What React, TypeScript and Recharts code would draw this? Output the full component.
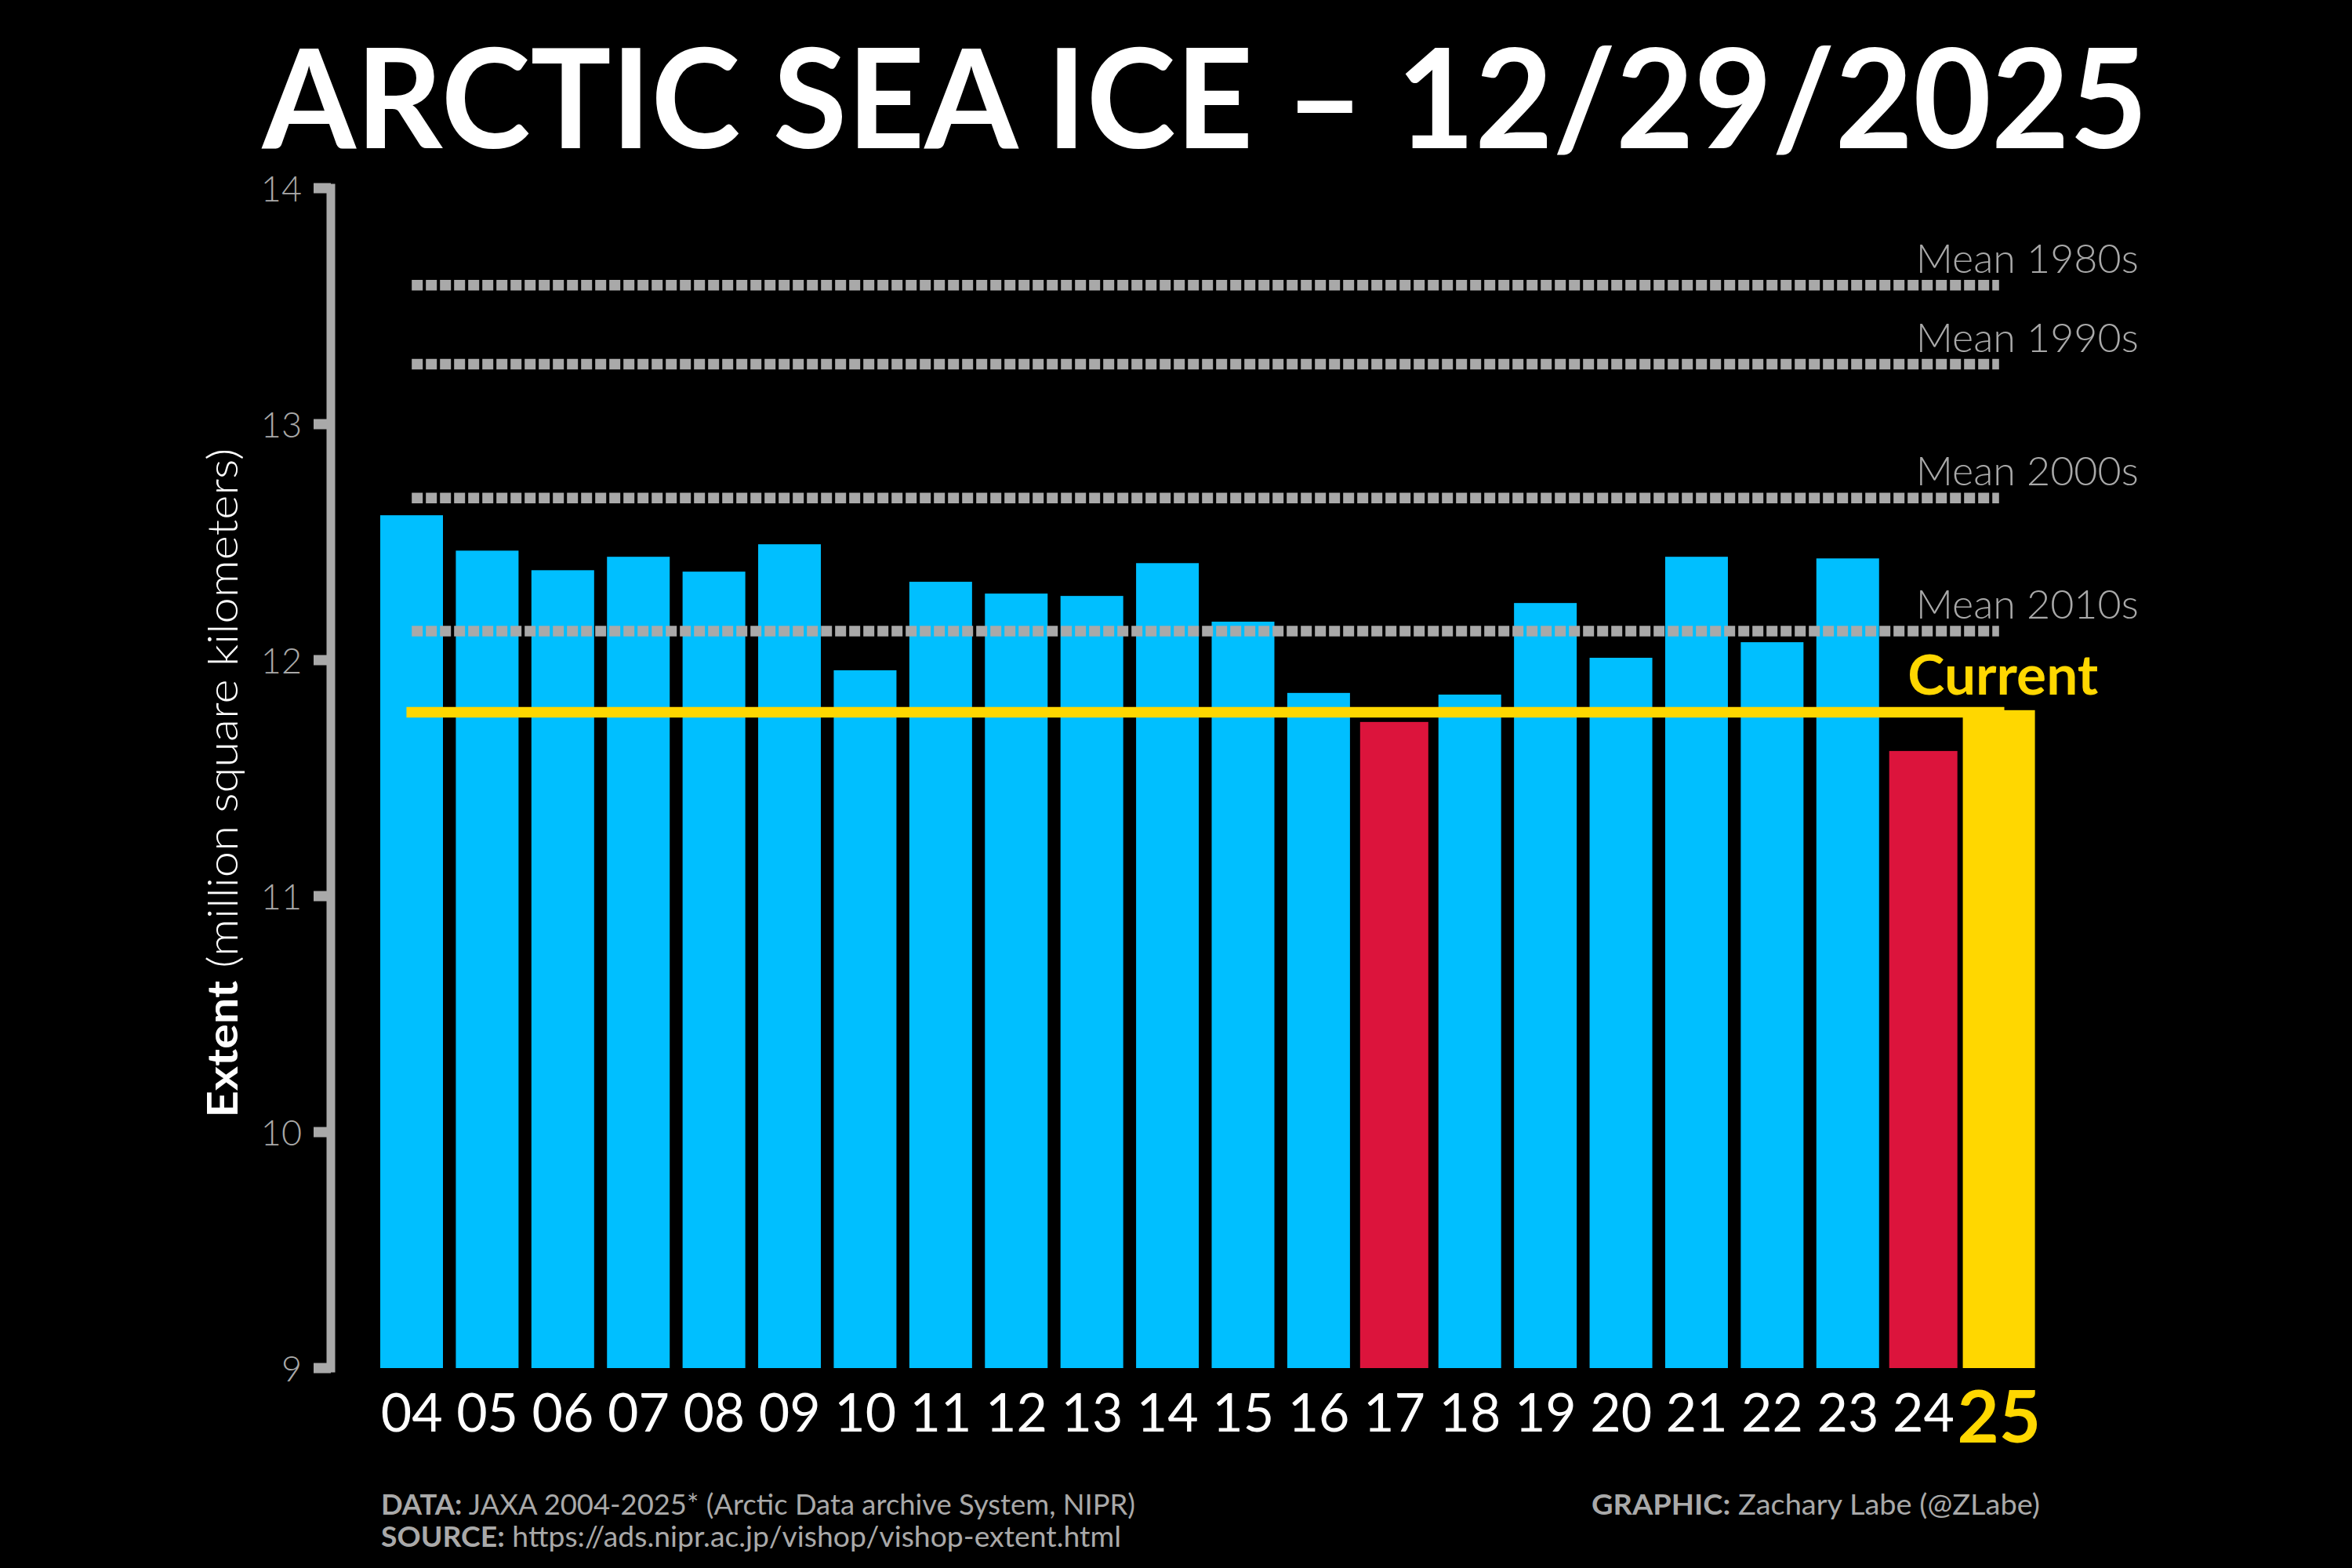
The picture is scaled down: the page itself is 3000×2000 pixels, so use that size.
import React from 'react';
import { BarChart, Bar, XAxis, YAxis, ReferenceLine } from 'recharts';

// ---------- data ----------
const years = ['04', '05', '06', '07', '08', '09', '10', '11', '12', '13', '14', '15', '16', '17', '18', '19', '20', '21', '22', '23', '24', '25'];
const extent = [12.614, 12.464, 12.381, 12.438, 12.375, 12.491, 11.957, 12.332, 12.282, 12.272, 12.411, 12.163, 11.861, 11.738, 11.854, 12.242, 12.01, 12.438, 12.076, 12.431, 11.615, 11.788];
const yTicks = [9, 10, 11, 12, 13, 14];
const decadeLabels = ['Mean 1980s', 'Mean 1990s', 'Mean 2000s', 'Mean 2010s'];
const decadeMeans = [13.589, 13.254, 12.687, 12.123];
const currentValue = 11.779;
const lowYears = ['17', '24'];
const currentYear = '25';

const data = years.map((year, i) => ({ year, extent: extent[i] }));

// ---------- style ----------
const FONT = "Lato, 'DejaVu Sans', sans-serif";
const BLUE = '#00BFFF';
const RED = '#DC143C';
const GOLD = '#FFD700';
const GREY = '#A9A9A9';

const colorFor = (y: string) => (y === currentYear ? GOLD : lowYears.includes(y) ? RED : BLUE);
const extraFor = (y: string) => (y === currentYear ? 6 : lowYears.includes(y) ? 3.5 : 0);

const BarShape = (props: any) => {
  const { x, y, width, height, payload } = props;
  const yr = payload?.year;
  const e = extraFor(yr);
  return <rect x={x - e} y={y} width={width + 2 * e} height={height} fill={colorFor(yr)} />;
};

const XTick = (props: any) => {
  const { x, y, payload } = props;
  const cur = payload.value === currentYear;
  return (
    <text
      x={x}
      y={y + (cur ? 95 : 81)}
      textAnchor="middle"
      fill={cur ? GOLD : '#FFFFFF'}
      fontSize={cur ? 92 : 68}
      fontWeight={cur ? 700 : 400}
      fontFamily={FONT}
    >
      {payload.value}
    </text>
  );
};

const YTick = (props: any) => {
  const { x, y, payload } = props;
  return (
    <text x={x} y={y} dy="0.37em" textAnchor="end" fill={GREY} fontSize={45} fontWeight={300} fontFamily={FONT}>
      {payload.value}
    </text>
  );
};

const YLabel = (props: any) => {
  const vb = props.viewBox || { x: 222, y: 240, width: 200, height: 1505 };
  const cx = vb.x + 81;
  const cy = vb.y + vb.height / 2 + 6;
  return (
    <text
      transform={`rotate(-90 ${cx} ${cy})`}
      x={cx}
      y={cy}
      textAnchor="middle"
      fontSize={54}
      fill="#FFFFFF"
      fontFamily={FONT}
      textLength={854}
      lengthAdjust="spacingAndGlyphs"
    >
      <tspan fontWeight={700}>Extent</tspan>
      <tspan fontWeight={300}> (million square kilometers)</tspan>
    </text>
  );
};

const MeanLabel = (props: any) => {
  const { viewBox, text } = props;
  if (!viewBox) return null;
  return (
    <text
      x={viewBox.x + viewBox.width + 178}
      y={viewBox.y - 16}
      textAnchor="end"
      fontSize={52}
      fontWeight={300}
      fill={GREY}
      fontFamily={FONT}
    >
      {text}
    </text>
  );
};

const CurrentLabel = (props: any) => {
  const { viewBox } = props;
  if (!viewBox) return null;
  return (
    <text
      x={viewBox.x + viewBox.width + 5}
      y={viewBox.y - 23}
      textAnchor="middle"
      fontSize={70}
      fontWeight={700}
      fill={GOLD}
      fontFamily={FONT}
      textLength={243}
      lengthAdjust="spacingAndGlyphs"
    >
      Current
    </text>
  );
};

export default function App() {
  const first = years[0];
  const last = years[years.length - 1];
  return (
    <div style={{ position: 'absolute', left: 0, top: 0, width: 3000, height: 2000, background: '#000000', fontFamily: FONT }}>
      <BarChart
        width={3000}
        height={2000}
        data={data}
        margin={{ top: 240, right: 402, bottom: 155, left: 222 }}
        barSize={80}
      >
        <XAxis
          dataKey="year"
          type="category"
          interval={0}
          tickLine={false}
          axisLine={false}
          tickSize={0}
          tickMargin={0}
          height={100}
          padding={{ left: 55, right: 0 }}
          tick={<XTick />}
        />
        <YAxis
          type="number"
          domain={[9, 14]}
          ticks={yTicks}
          allowDataOverflow
          width={200}
          axisLine={{ stroke: GREY, strokeWidth: 11, strokeLinecap: 'square' }}
          tickLine={{ stroke: GREY, strokeWidth: 13 }}
          tickSize={22}
          tickMargin={15}
          tick={<YTick />}
          label={<YLabel />}
        />
        <Bar dataKey="extent" isAnimationActive={false} shape={<BarShape />} />
        {decadeMeans.map((v, i) => (
          <ReferenceLine
            key={decadeLabels[i]}
            segment={[
              { x: first, y: v },
              { x: last, y: v },
            ]}
            stroke={GREY}
            strokeWidth={13.5}
            strokeDasharray="14 4"
            label={<MeanLabel text={decadeLabels[i]} />}
          />
        ))}
        <ReferenceLine
          segment={[
            { x: first, y: currentValue },
            { x: last, y: currentValue },
          ]}
          stroke={GOLD}
          strokeWidth={13.5}
          strokeLinecap="square"
          label={<CurrentLabel />}
        />
      </BarChart>
      <svg
        width={3000}
        height={2000}
        style={{ position: 'absolute', left: 0, top: 0, pointerEvents: 'none' }}
      >
        <text
          x={1537}
          y={189}
          textAnchor="middle"
          fontSize={176}
          fontWeight={700}
          fill="#FFFFFF"
          fontFamily={FONT}
          textLength={2405}
          lengthAdjust="spacingAndGlyphs"
        >
          ARCTIC SEA ICE – 12/29/2025
        </text>
        <text x={486} y={1932} fontSize={37} fill={GREY} fontFamily={FONT} textLength={962} lengthAdjust="spacingAndGlyphs">
          <tspan fontWeight={700}>DATA:</tspan>
          <tspan fontWeight={400}> JAXA 2004-2025* (Arctic Data archive System, NIPR)</tspan>
        </text>
        <text x={486} y={1973} fontSize={37} fill={GREY} fontFamily={FONT} textLength={944} lengthAdjust="spacingAndGlyphs">
          <tspan fontWeight={700}>SOURCE:</tspan>
          <tspan fontWeight={400}> https://ads.nipr.ac.jp/vishop/vishop-extent.html</tspan>
        </text>
        <text x={2030} y={1932} fontSize={37} fill={GREY} fontFamily={FONT} textLength={572} lengthAdjust="spacingAndGlyphs">
          <tspan fontWeight={700}>GRAPHIC:</tspan>
          <tspan fontWeight={400}> Zachary Labe (@ZLabe)</tspan>
        </text>
      </svg>
    </div>
  );
}
